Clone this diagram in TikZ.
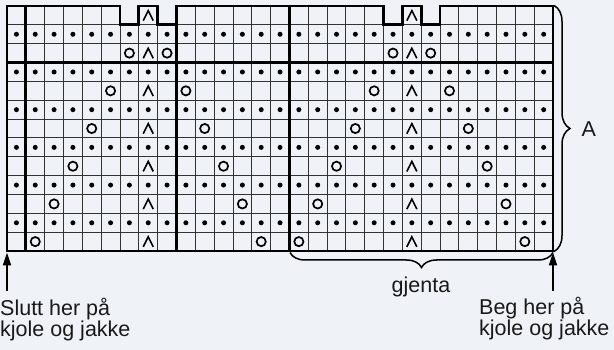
\documentclass[tikz,border=0pt]{standalone}
\usepackage{fontspec}
\setmainfont{Liberation Sans}
\usetikzlibrary{arrows.meta,decorations.pathreplacing}
\definecolor{bg}{RGB}{239,243,247}
\begin{document}
\begin{tikzpicture}[x=1pt,y=-1pt,
  gridline/.style={line width=0.9pt,black!80},
  thickline/.style={line width=2.8pt,black},
  dotsym/.style={circle,fill=black,draw=none,inner sep=0pt,minimum size=5pt},
  osym/.style={circle,draw=black,line width=1.7pt,inner sep=0pt,minimum size=9.2pt},
  lamsym/.style={inner sep=0pt,minimum size=10pt},
  lamline/.style={line width=1.6pt,black},
  lbl/.style={font=\fontsize{21.5}{20.7}\selectfont,inner sep=0pt,text=black!90},
  arr/.style={line width=2pt,black,-{Triangle[length=13pt,width=8pt]}},
  bracestyle/.style={line width=1.5pt,black,decorate},
]
\fill[bg] (0,0) rectangle (614,350);
\useasboundingbox (0,0) rectangle (614,350);
\def\cw{18.83}
\def\ch{18.85}
% thin grid
\foreach \i in {0,...,29}{
  \pgfmathsetmacro\xx{7+\cw*\i}
  \draw[gridline] (\xx,6) -- (\xx,251.05);
}
\foreach \j in {1,...,13}{
  \pgfmathsetmacro\yy{6+\ch*\j}
  \draw[gridline] (7,\yy) -- (553.07,\yy);
}
% thick lines
\foreach \i in {1,9,15}{
  \pgfmathsetmacro\xx{7+\cw*\i}
  \draw[thickline] (\xx,6) -- (\xx,251.05);
}
\draw[thickline] (7,62.55) -- (553.07,62.55);
\draw[thickline] (7,251.05) -- (7,6) -- (119.98,6) -- (119.98,24.85) -- (138.81,24.85)
  -- (138.81,6) -- (157.64,6) -- (157.64,24.85) -- (176.47,24.85) -- (176.47,6)
  -- (383.6,6) -- (383.6,24.85) -- (402.43,24.85) -- (402.43,6) -- (421.26,6)
  -- (421.26,24.85) -- (440.09,24.85) -- (440.09,6) -- (553.07,6) -- (553.07,251.05) -- cycle;
% dots
\foreach \j in {1,3,...,11}{
  \foreach \i in {0,...,28}{
    \pgfmathsetmacro\xx{7+\cw*(\i+0.5)}
    \pgfmathsetmacro\yy{6+\ch*(\j+0.5)}
    \node[dotsym] (d-\i-\j) at (\xx,\yy) {};
  }
}
% lambdas
\foreach \j in {0,2,...,12}{
  \foreach \i in {7,21}{
    \pgfmathsetmacro\xx{7+\cw*(\i+0.5)}
    \pgfmathsetmacro\yy{6+\ch*(\j+0.5)}
    \node[lamsym] (l-\i-\j) at (\xx,\yy) {};
    \draw[lamline] ([shift={(-5,5.2)}]l-\i-\j.center) -- ([shift={(0,-4.8)}]l-\i-\j.center) -- ([shift={(5,5.2)}]l-\i-\j.center);
  }
}
% yarn overs
\foreach \k in {1,...,6}{
  \pgfmathtruncatemacro\j{2*\k}
  \foreach \c in {7,21}{
    \pgfmathtruncatemacro\ia{\c-\k}
    \pgfmathtruncatemacro\ib{\c+\k}
    \pgfmathsetmacro\yy{6+\ch*(\j+0.5)}
    \pgfmathsetmacro\xa{7+\cw*(\ia+0.5)}
    \pgfmathsetmacro\xb{7+\cw*(\ib+0.5)}
    \node[osym] (o-\ia-\j) at (\xa,\yy) {};
    \node[osym] (o-\ib-\j) at (\xb,\yy) {};
  }
}
% braces
\coordinate (Atop) at (554,5.5);
\coordinate (Abot) at (554,251.5);
\draw[bracestyle,decoration={brace,amplitude=16pt}] (Atop) -- (Abot);
\coordinate (Gright) at (553,252.5);
\coordinate (Gleft) at (290,252.5);
\draw[bracestyle,decoration={brace,amplitude=15pt}] (Gright) -- (Gleft);
% labels
\node[lbl,anchor=base west] (A) at (581.5,137) {A};
\node[lbl,anchor=base] (gjenta) at (421,293) {gjenta};
\node[lbl,anchor=base west,align=left] (slutt) at (0,336.5) {Slutt her på\\kjole og jakke};
\node[lbl,anchor=base west,align=left] (beg) at (479,335) {Beg her på\\kjole og jakke};
% arrows
\coordinate (sluttfoot) at (7,291);
\coordinate (slutttip) at (7,252.5);
\coordinate (begfoot) at (553,291);
\coordinate (begtip) at (553,252.5);
\draw[arr] (sluttfoot) -- (slutttip);
\draw[arr] (begfoot) -- (begtip);
\end{tikzpicture}
\end{document}
